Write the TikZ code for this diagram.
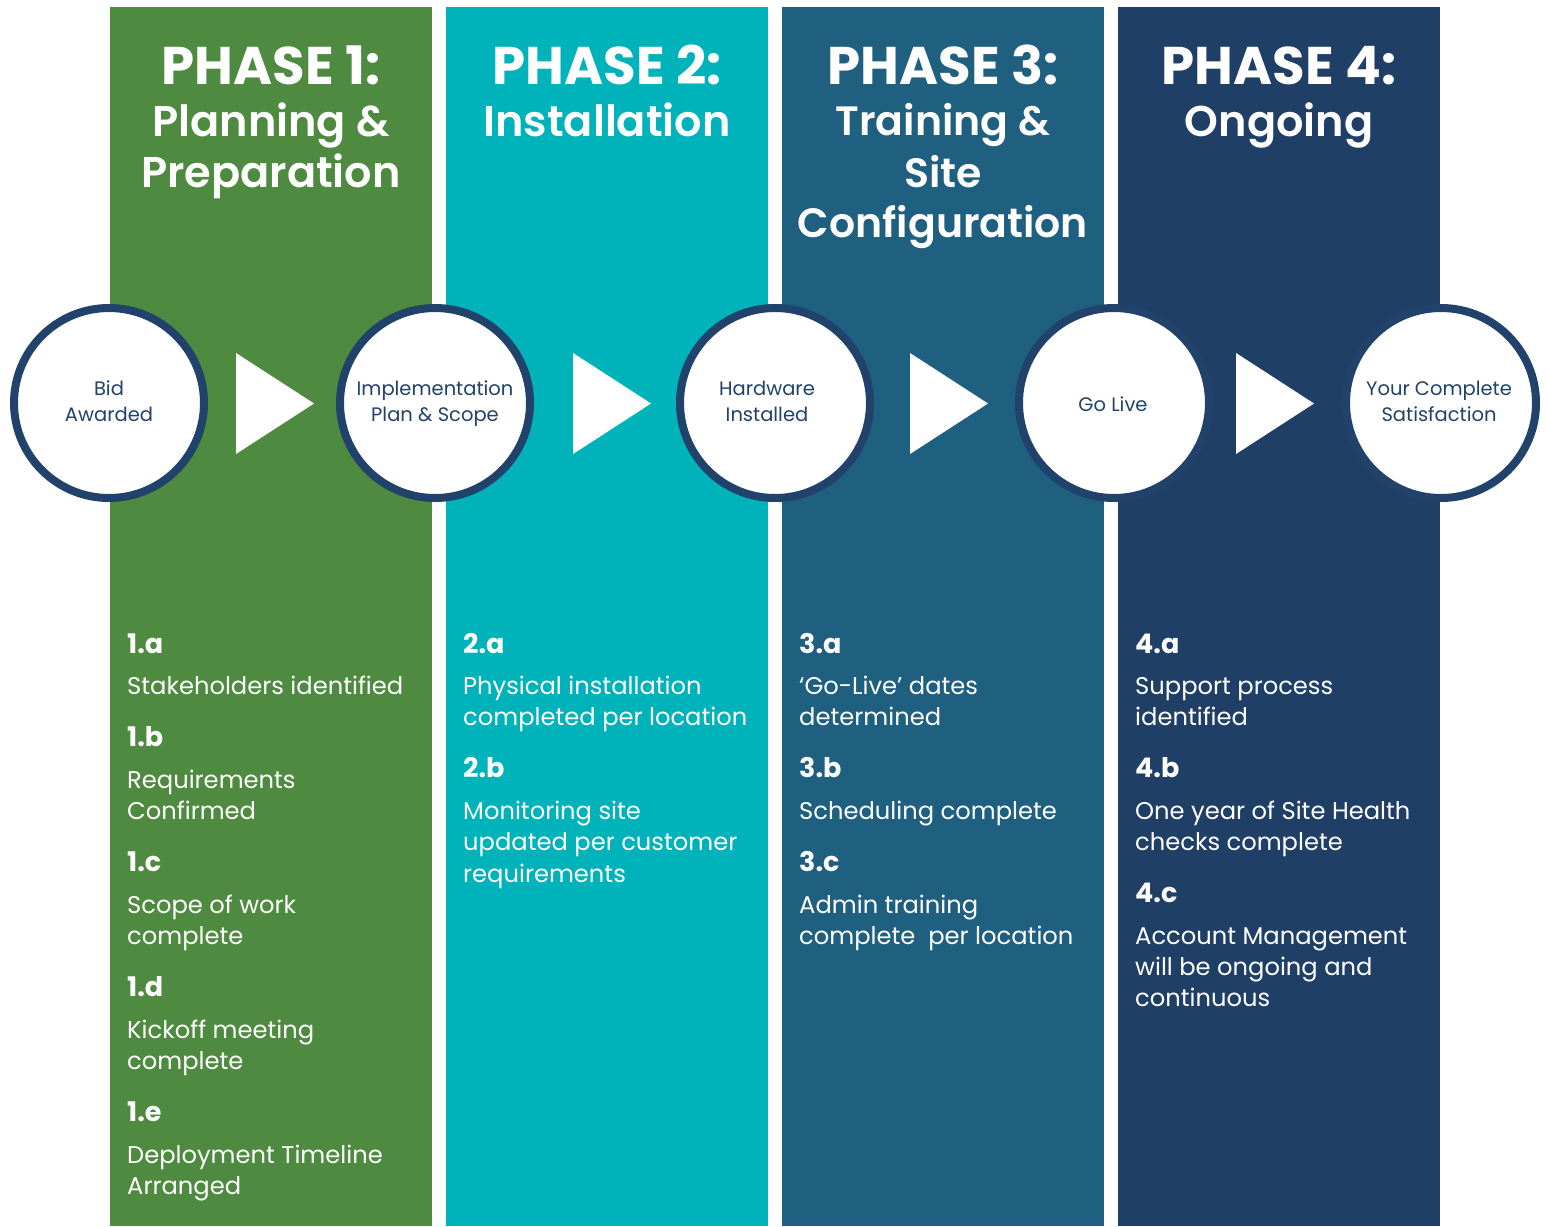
\documentclass[tikz,border=0pt]{standalone}
\usepackage{fontspec}
\setmainfont{Poppins}
\newfontfamily\psemi{Poppins SemiBold}
\definecolor{pgreen}{HTML}{4E8B40}
\definecolor{pteal}{HTML}{00B3BB}
\definecolor{pblue}{HTML}{1F5F80}
\definecolor{pnavy}{HTML}{1F3F67}
\definecolor{ring}{HTML}{21426A}
\begin{document}
\begin{tikzpicture}[x=1pt,y=-1pt,
  col/.style={fill=#1,draw=none},
  ph/.style={anchor=base,text=white,inner sep=0pt,font=\bfseries\fontsize{53}{53}\selectfont},
  sub/.style={anchor=base,text=white,inner sep=0pt,font=\psemi\fontsize{43}{43}\selectfont},
  subsmall/.style={anchor=base,text=white,inner sep=0pt,font=\psemi\fontsize{41}{41}\selectfont},
  milestone/.style={circle,fill=white,draw=ring,line width=8pt,minimum size=190pt,inner sep=0pt},
  mtext/.style={anchor=base,text=ring,inner sep=0pt,font=\fontsize{19.5}{19.5}\selectfont},
  lbl/.style={anchor=base west,text=white,inner sep=0pt,font=\bfseries\fontsize{27}{27}\selectfont},
  body/.style={anchor=base west,text=white,inner sep=0pt,font=\fontsize{24.2}{24.2}\selectfont},
  tri/.style={fill=white,draw=none}]
\useasboundingbox (0,0) rectangle (1549,1226);
% columns
\fill[col=pgreen] (110,7) rectangle (432,1226);
\fill[col=pteal] (446,7) rectangle (768,1226);
\fill[col=pblue] (782,7) rectangle (1104,1226);
\fill[col=pnavy] (1118,7) rectangle (1440,1226);
% headings
\node[ph] (h1) at (271,84) {PHASE 1:};
\node[sub] (h1a) at (271,136) {Planning \&};
\node[sub] (h1b) at (271,187) {Preparation};
\node[ph] (h2) at (607,84) {PHASE 2:};
\node[sub] (h2a) at (607,136) {Installation};
\node[ph] (h3) at (943,84) {PHASE 3:};
\node[subsmall] (h3a) at (943,135) {Training \&};
\node[subsmall] (h3b) at (943,187) {Site};
\node[subsmall] (h3c) at (943,237) {Configuration};
\node[ph] (h4) at (1279,84) {PHASE 4:};
\node[sub] (h4a) at (1279,136) {Ongoing};
% milestones
\node[milestone] (c1) at (109,403) {};
\node[milestone] (c2) at (435,403) {};
\node[milestone] (c3) at (775,403) {};
\node[milestone] (c4) at (1114,403) {};
\node[milestone] (c5) at (1441,403) {};
\node[mtext] (c1t1) at (109,395) {Bid};
\node[mtext] (c1t2) at (109,421) {Awarded};
\node[mtext] (c2t1) at (435,395) {Implementation};
\node[mtext] (c2t2) at (435,421) {Plan \& Scope};
\node[mtext] (c3t1) at (767,395) {Hardware};
\node[mtext] (c3t2) at (767,421) {Installed};
\node[mtext] (c4t1) at (1113,411) {Go Live};
\node[mtext] (c5t1) at (1439,395) {Your Complete};
\node[mtext] (c5t2) at (1439,421) {Satisfaction};
% arrows
\fill[tri] (236,353) -- (314,403.5) -- (236,454) -- cycle;
\fill[tri] (573,353) -- (651,403.5) -- (573,454) -- cycle;
\fill[tri] (910,353) -- (988,403.5) -- (910,454) -- cycle;
\fill[tri] (1236,353) -- (1314,403.5) -- (1236,454) -- cycle;
% phase 1 items
\node[lbl] (l1a) at (127,653) {1.a};
\node[body] (b1a1) at (127,694) {Stakeholders identified};
\node[lbl] (l1b) at (127,746) {1.b};
\node[body] (b1b1) at (127,788) {Requirements};
\node[body] (b1b2) at (127,819) {Confirmed};
\node[lbl] (l1c) at (127,871) {1.c};
\node[body] (b1c1) at (127,913) {Scope of work};
\node[body] (b1c2) at (127,944) {complete};
\node[lbl] (l1d) at (127,996) {1.d};
\node[body] (b1d1) at (127,1038) {Kickoff meeting};
\node[body] (b1d2) at (127,1069) {complete};
\node[lbl] (l1e) at (127,1121) {1.e};
\node[body] (b1e1) at (127,1163) {Deployment Timeline};
\node[body] (b1e2) at (127,1194) {Arranged};
% phase 2 items
\node[lbl] (l2a) at (463,653) {2.a};
\node[body] (b2a1) at (463,694) {Physical installation};
\node[body] (b2a2) at (463,725) {completed per location};
\node[lbl] (l2b) at (463,777) {2.b};
\node[body] (b2b1) at (463,819) {Monitoring site};
\node[body] (b2b2) at (463,850) {updated per customer};
\node[body] (b2b3) at (463,882) {requirements};
% phase 3 items
\node[lbl] (l3a) at (799,653) {3.a};
\node[body] (b3a1) at (799,694) {‘Go-Live’ dates};
\node[body] (b3a2) at (799,725) {determined};
\node[lbl] (l3b) at (799,777) {3.b};
\node[body] (b3b1) at (799,819) {Scheduling complete};
\node[lbl] (l3c) at (799,871) {3.c};
\node[body] (b3c1) at (799,913) {Admin training};
\node[body] (b3c2) at (799,944) {complete\ \ per location};
% phase 4 items
\node[lbl] (l4a) at (1135,653) {4.a};
\node[body] (b4a1) at (1135,694) {Support process};
\node[body] (b4a2) at (1135,725) {identified};
\node[lbl] (l4b) at (1135,777) {4.b};
\node[body] (b4b1) at (1135,819) {One year of Site Health};
\node[body] (b4b2) at (1135,850) {checks complete};
\node[lbl] (l4c) at (1135,902) {4.c};
\node[body] (b4c1) at (1135,944) {Account Management};
\node[body] (b4c2) at (1135,975) {will be ongoing and};
\node[body] (b4c3) at (1135,1006) {continuous};
\end{tikzpicture}
\end{document}
